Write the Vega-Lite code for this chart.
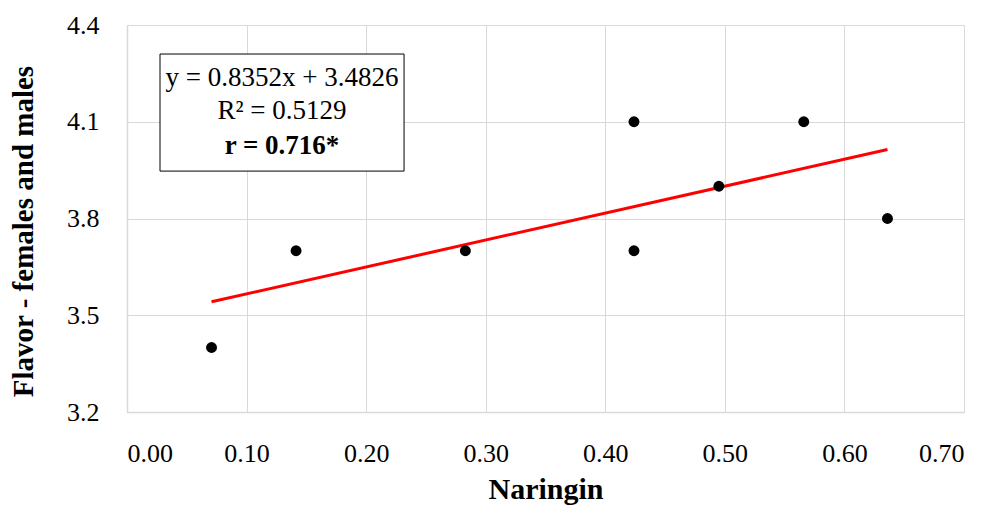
{
  "$schema": "https://vega.github.io/schema/vega-lite/v6.json",
  "width": 837,
  "height": 387,
  "autosize": "none",
  "padding": {"left": 127, "top": 25, "right": 41, "bottom": 97},
  "background": "white",
  "config": {
    "font": "Liberation Serif",
    "view": {"stroke": null},
    "axis": {
      "labelFont": "Liberation Serif",
      "titleFont": "Liberation Serif",
      "labelFontSize": 26,
      "labelColor": "#000000",
      "titleColor": "#000000",
      "titleFontWeight": "bold",
      "gridColor": "#d9d9d9",
      "gridWidth": 1,
      "domainColor": "#d9d9d9",
      "domainWidth": 1.5,
      "ticks": false
    }
  },
  "layer": [
    {
      "data": {"values": [{"x1": 0.0276, "x2": 0.2317, "y1": 4.31, "y2": 3.947}]},
      "mark": {"type": "rect", "fill": "white", "stroke": "black", "strokeWidth": 1},
      "encoding": {
        "x": {"field": "x1", "type": "quantitative", "scale": {"domain": [0, 0.7], "nice": false},
          "axis": {"title": "Naringin", "titleFontSize": 30, "values": [0, 0.1, 0.2, 0.3, 0.4, 0.5, 0.6, 0.7], "format": ".2f", "labelPadding": 28, "titlePadding": 8}},
        "x2": {"field": "x2"},
        "y": {"field": "y1", "type": "quantitative", "scale": {"domain": [3.2, 4.4], "nice": false, "zero": false},
          "axis": {"title": "Flavor - females and males", "titleFontSize": 29, "titleY": 206, "values": [3.2, 3.5, 3.8, 4.1, 4.4], "format": ".1f", "labelPadding": 28, "titlePadding": 28}},
        "y2": {"field": "y2"}
      }
    },
    {
      "data": {"values": [
        {"label": "y = 0.8352x + 3.4826", "x": 0.1296, "y": 4.2357, "w": "normal"},
        {"label": "R² = 0.5129", "x": 0.1296, "y": 4.1333, "w": "normal"},
        {"label": "r = 0.716*", "x": 0.1296, "y": 4.0248, "w": "bold"}
      ]},
      "layer": [
        {
          "transform": [{"filter": "datum.w === 'normal'"}],
          "mark": {"type": "text", "fontSize": 27, "font": "Liberation Serif", "align": "center", "baseline": "middle", "color": "black"},
          "encoding": {
            "x": {"field": "x", "type": "quantitative"},
            "y": {"field": "y", "type": "quantitative"},
            "text": {"field": "label"}
          }
        },
        {
          "transform": [{"filter": "datum.w === 'bold'"}],
          "mark": {"type": "text", "fontSize": 27, "font": "Liberation Serif", "fontWeight": "bold", "align": "center", "baseline": "middle", "color": "black"},
          "encoding": {
            "x": {"field": "x", "type": "quantitative"},
            "y": {"field": "y", "type": "quantitative"},
            "text": {"field": "label"}
          }
        }
      ]
    },
    {
      "data": {"values": [
        {"x": 0.0707, "y": 3.5417},
        {"x": 0.636, "y": 4.0138}
      ]},
      "mark": {"type": "line", "color": "#ff0000", "strokeWidth": 3},
      "encoding": {
        "x": {"field": "x", "type": "quantitative"},
        "y": {"field": "y", "type": "quantitative"}
      }
    },
    {
      "data": {"values": [
        {"naringin": 0.0707, "flavor": 3.4},
        {"naringin": 0.1414, "flavor": 3.7},
        {"naringin": 0.283, "flavor": 3.7},
        {"naringin": 0.424, "flavor": 4.1},
        {"naringin": 0.424, "flavor": 3.7},
        {"naringin": 0.495, "flavor": 3.9},
        {"naringin": 0.566, "flavor": 4.1},
        {"naringin": 0.636, "flavor": 3.8}
      ]},
      "mark": {"type": "circle", "color": "black", "opacity": 1, "size": 120},
      "encoding": {
        "x": {"field": "naringin", "type": "quantitative"},
        "y": {"field": "flavor", "type": "quantitative"}
      }
    }
  ]
}
